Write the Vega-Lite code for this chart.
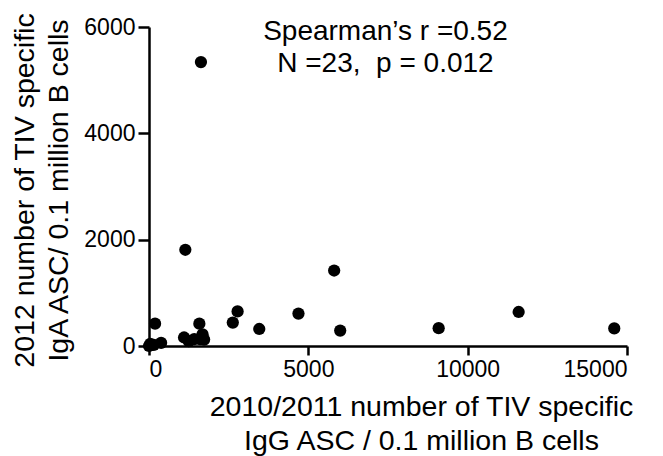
{
  "$schema": "https://vega.github.io/schema/vega-lite/v6.json",
  "width": 478,
  "height": 319,
  "autosize": {"type": "none"},
  "padding": {"left": 149, "top": 27, "right": 36, "bottom": 110},
  "background": "white",
  "config": {
    "view": {"stroke": null},
    "font": "Liberation Sans",
    "axis": {
      "grid": false,
      "domainColor": "black",
      "domainWidth": 2.5,
      "tickColor": "black",
      "tickWidth": 2.5,
      "labelColor": "black",
      "labelFont": "Liberation Sans",
      "labelFontSize": 23,
      "labelPadding": 3,
      "titleColor": "black",
      "titleFont": "Liberation Sans",
      "titleFontSize": 28.5,
      "titleFontWeight": "normal",
      "titleLineHeight": 34
    }
  },
  "layer": [
    {
      "data": {
        "values": [
          {"igg": 1630, "iga": 5340},
          {"igg": 1140, "iga": 1810},
          {"igg": 190, "iga": 420},
          {"igg": 40, "iga": 40},
          {"igg": 380, "iga": 60},
          {"igg": 150, "iga": 20},
          {"igg": 0, "iga": 0},
          {"igg": 1100, "iga": 160},
          {"igg": 1250, "iga": 90},
          {"igg": 1580, "iga": 420},
          {"igg": 1680, "iga": 220},
          {"igg": 1420, "iga": 130},
          {"igg": 1600, "iga": 130},
          {"igg": 1730, "iga": 120},
          {"igg": 2780, "iga": 650},
          {"igg": 2630, "iga": 440},
          {"igg": 3460, "iga": 320},
          {"igg": 4690, "iga": 610},
          {"igg": 5810, "iga": 1420},
          {"igg": 6000, "iga": 290},
          {"igg": 9090, "iga": 335},
          {"igg": 11600, "iga": 640},
          {"igg": 14600, "iga": 330}
        ]
      },
      "mark": {"type": "point", "shape": "circle", "filled": true, "color": "black", "opacity": 1, "size": 150, "clip": false},
      "encoding": {
        "x": {
          "field": "igg",
          "type": "quantitative",
          "scale": {"domain": [0, 15000], "nice": false, "zero": true},
          "axis": {
            "values": [0, 5000, 10000, 15000],
            "format": "d",
            "tickSize": 9,
            "title": ["2010/2011 number of TIV specific", "IgG ASC / 0.1 million B cells"],
            "titleX": 272,
            "titleY": 60,
            "titleAlign": "center",
            "titleBaseline": "middle",
            "titleAnchor": null
          }
        },
        "y": {
          "field": "iga",
          "type": "quantitative",
          "scale": {"domain": [0, 6000], "nice": false},
          "axis": {
            "values": [0, 2000, 4000, 6000],
            "format": "d",
            "tickSize": 11,
            "title": ["2012 number of TIV specific", "IgA ASC/ 0.1 million B cells"],
            "titleX": -125,
            "titleY": 163,
            "titleAngle": -90,
            "titleAlign": "center",
            "titleBaseline": "middle",
            "titleAnchor": null
          }
        }
      }
    },
    {
      "data": {"values": [{"note": "Spearman’s r =0.52\nN =23,\u00a0 p = 0.012"}]},
      "mark": {"type": "text", "font": "Liberation Sans", "fontSize": 28, "color": "black", "lineBreak": "\n", "lineHeight": 31.5, "align": "center", "baseline": "middle"},
      "encoding": {
        "text": {"field": "note"},
        "x": {"datum": 7420, "type": "quantitative"},
        "y": {"datum": 5900, "type": "quantitative"}
      }
    }
  ]
}
